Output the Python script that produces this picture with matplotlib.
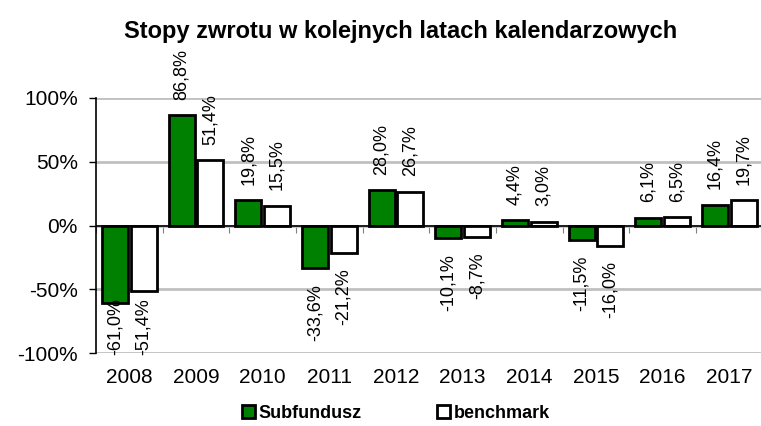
import matplotlib.pyplot as plt
from matplotlib.patches import Patch

plt.rcParams['font.family'] = ['Liberation Sans', 'DejaVu Sans']

years = ['2008', '2009', '2010', '2011', '2012', '2013', '2014', '2015', '2016', '2017']
subfundusz = [-61.0, 86.8, 19.8, -33.6, 28.0, -10.1, 4.4, -11.5, 6.1, 16.4]
benchmark = [-51.4, 51.4, 15.5, -21.2, 26.7, -8.7, 3.0, -16.0, 6.5, 19.7]

fig = plt.figure(figsize=(7.61, 4.26), dpi=100)
ax = fig.add_axes([0.126, 0.171, 0.876, 0.599])

x = range(len(years))
w = 0.39
off = 0.215
ax.bar([i - off for i in x], subfundusz, w, color='#008000', edgecolor='black', linewidth=2, zorder=3)
ax.bar([i + off for i in x], benchmark, w, color='white', edgecolor='black', linewidth=2, zorder=3)

def fmt(v):
    return ('%.1f%%' % v).replace('.', ',')

# etykiety wartosci, pionowo
for vals, dx in ((subfundusz, -off), (benchmark, off)):
    for i, v in enumerate(vals):
        if v >= 0:
            ax.text(i + dx, v + 12, fmt(v), rotation=90, ha='center', va='bottom', fontsize=13, zorder=4)
        else:
            top = v - 12
            if top - 45 < -102:
                top = -57
            ax.text(i + dx, top, fmt(v), rotation=90, ha='center', va='top', fontsize=13, zorder=4)

ax.set_ylim(-100, 100)
ax.set_xlim(-0.5, 9.5)
ax.set_yticks([-100, -50, 0, 50, 100])
ax.set_yticklabels(['-100%', '-50%', '0%', '50%', '100%'], fontsize=15)
ax.yaxis.grid(True, color='#c0c0c0', linewidth=2, zorder=0)
ax.axhline(0, color='black', linewidth=1.2, zorder=3)

ax.set_xticks([i + 0.5 for i in range(-1, 10)])
ax.set_xticklabels([])
ax.tick_params(axis='x', direction='out', length=5, color='#808080')
ax.tick_params(axis='y', length=5, width=1, pad=8)
ax.spines['bottom'].set_position(('data', 0))
ax.spines['bottom'].set_visible(False)
ax.spines['top'].set_visible(False)
ax.spines['right'].set_visible(False)
ax.spines['left'].set_linewidth(1.2)

for i, y in enumerate(years):
    ax.text(i, -0.095, y, transform=ax.get_xaxis_transform(), ha='center', va='center', fontsize=15)

fig.text(0.527, 0.927, 'Stopy zwrotu w kolejnych latach kalendarzowych', ha='center', va='center',
         fontsize=17, fontweight='bold')

handles = [Patch(facecolor='#008000', edgecolor='black', linewidth=2, label='Subfundusz'),
           Patch(facecolor='white', edgecolor='black', linewidth=2, label='benchmark')]
fig.legend(handles=handles, loc='center', bbox_to_anchor=(0.52, 0.03), ncol=2, frameon=False,
           prop={'weight': 'bold', 'size': 13}, handlelength=0.7, handleheight=0.7,
           handletextpad=0.2, columnspacing=4.2)

plt.savefig('out.png', dpi=100)
